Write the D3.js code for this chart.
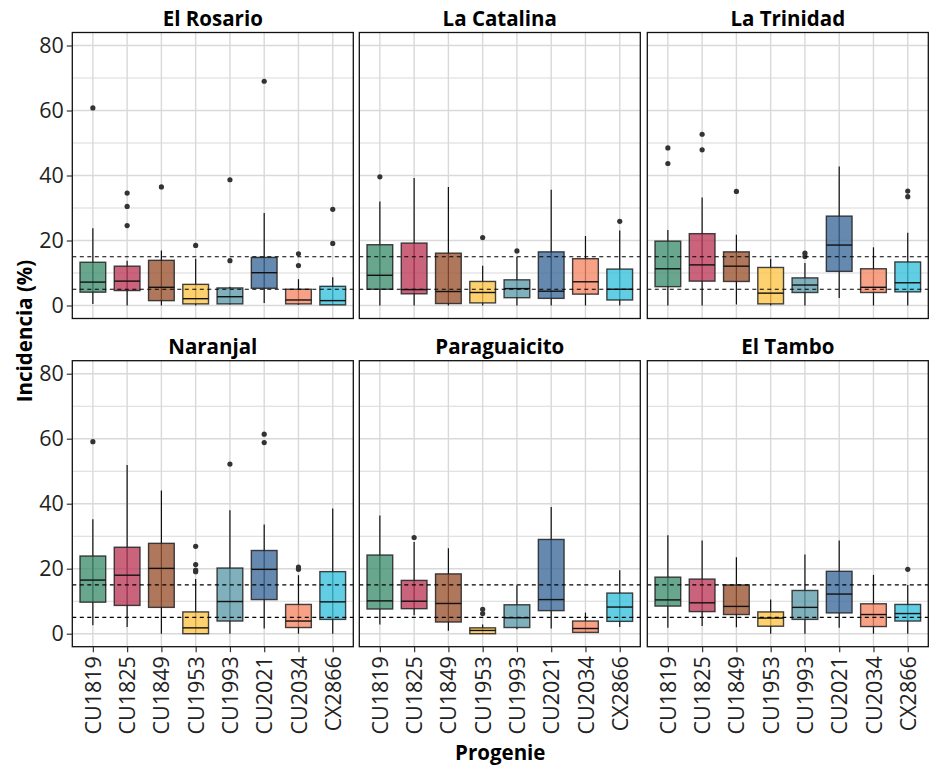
<!DOCTYPE html>
<html>
<head>
<meta charset="utf-8">
<script src="https://cdn.jsdelivr.net/npm/d3@7"></script>
<style>
  body { margin: 0; background: #fff; }
  svg text { font-family: "Open Sans", sans-serif; }
</style>
</head>
<body>
<svg id="chart" width="932" height="768"></svg>
<script>
// categories
var sites = ["El Rosario", "La Catalina", "La Trinidad", "Naranjal", "Paraguaicito", "El Tambo"];
var progenies = ["CU1819", "CU1825", "CU1849", "CU1953", "CU1993", "CU2021", "CU2034", "CX2866"];
var colors = ["#3d8e6e", "#bb3859", "#98522f", "#fcc447", "#5e9aaa", "#3b6898", "#f58864", "#36c0dd"];
var refLines = [5, 15];
var yTicks = [0, 20, 40, 60, 80];

// box stats per progenie: [lower whisker, q1, median, q3, upper whisker]
var rosarioBox = [[0.5, 4.1, 7.2, 13.3, 23.8], [0, 4.6, 7.5, 12.1, 13.8], [0, 1.5, 5.6, 13.9, 16.9], [0, 0.5, 2.1, 6.5, 14.4],
                  [0.3, 0.5, 2.7, 5.4, 5.8], [0.8, 5.3, 10.1, 14.8, 28.5], [0.2, 0.5, 1.7, 5.0, 8.1], [0.2, 0.2, 1.5, 5.9, 8.7]];
var catalinaBox = [[0, 5.0, 9.3, 18.7, 32.0], [0, 3.6, 4.9, 19.2, 39.2], [0, 0.6, 4.3, 16.1, 36.5], [0, 0.8, 4.0, 7.4, 12.2],
                   [0, 2.4, 5.2, 7.9, 14.9], [0, 2.2, 4.4, 16.5, 35.6], [0, 3.5, 7.3, 14.4, 21.4], [0, 1.7, 5.0, 11.2, 23.1]];
var trinidadBox = [[0, 5.8, 11.3, 19.8, 23.2], [0, 7.5, 12.5, 22.1, 33.2], [0.3, 7.4, 12.1, 16.5, 21.8], [0, 0.5, 3.8, 11.7, 14.4],
                   [0, 4.0, 6.3, 8.5, 13.1], [2.3, 10.5, 18.6, 27.5, 42.8], [0, 4.0, 5.6, 11.3, 17.9], [0, 4.2, 7.0, 13.4, 22.4]];
var naranjalBox = [[2.6, 9.7, 16.5, 23.9, 35.2], [2.1, 8.7, 18.0, 26.6, 51.9], [0, 8.1, 20.1, 27.8, 44.1], [0, 0, 1.8, 6.7, 16.8],
                   [0, 3.9, 9.9, 20.2, 38.0], [1.6, 10.5, 19.8, 25.6, 33.6], [0, 1.9, 3.9, 9.0, 18.0], [0, 4.4, 9.8, 19.1, 38.5]];
var paraguaicitoBox = [[2.8, 7.6, 10.1, 24.2, 36.4], [5.7, 7.7, 10.0, 16.4, 28.2], [0.9, 3.6, 9.3, 18.4, 26.3], [0, 0, 1.0, 1.8, 2.8],
                       [1.4, 1.9, 4.9, 8.9, 14.9], [1.6, 7.1, 10.5, 29.0, 39.0], [0.4, 0.4, 1.6, 3.9, 6.5], [2.1, 3.8, 8.2, 12.5, 19.5]];
var tamboBox = [[1.8, 8.5, 10.4, 17.4, 30.3], [2.4, 6.8, 9.5, 16.8, 28.7], [2.0, 5.9, 8.4, 15.0, 23.5], [0, 2.3, 4.8, 6.7, 10.5],
                [0, 4.4, 8.1, 13.3, 24.4], [1.8, 6.4, 12.2, 19.2, 28.7], [0, 2.2, 5.9, 9.2, 18.1], [0, 3.9, 6.2, 9.0, 15.0]];

// outliers per progenie
var rosarioOut = [[60.8], [34.6, 30.5, 24.6], [36.5], [18.5], [13.8, 38.7], [69.0], [15.9, 12.3], [29.6, 19.1]];
var catalinaOut = [[39.6], [], [], [20.9], [16.8], [], [], [25.9]];
var trinidadOut = [[48.5, 43.7], [52.7, 47.9], [35.1], [], [16.1, 15.1], [], [], [35.2, 33.5]];
var naranjalOut = [[59.1], [], [], [26.9, 21.3, 19.6, 19.1], [52.2], [61.4, 58.8], [20.5, 19.8], []];
var paraguaicitoOut = [[], [29.6], [], [7.5, 6.2], [], [], [], []];
var tamboOut = [[], [], [], [], [], [], [], [19.8]];

var boxData = [rosarioBox, catalinaBox, trinidadBox, naranjalBox, paraguaicitoBox, tamboBox];
var outData = [rosarioOut, catalinaOut, trinidadOut, naranjalOut, paraguaicitoOut, tamboOut];

var svg = d3.select("#chart");

var panelW = 281, panelH = 286;
var panelX = [72.3, 359.3, 647.3];
var panelY = [32.5, 360.7];

for (var p = 0; p < sites.length; p++) {
    var col = p % 3, row = Math.floor(p / 3);
    var x0 = panelX[col], y0 = panelY[row];

    var x = d3.scalePoint().domain(progenies).range([x0, x0 + panelW]).padding(0.6);
    var y = d3.scaleLinear().domain([-4, 84]).range([y0 + panelH, y0]);
    var bw = x.step() * 0.75;

    var g = svg.append("g").attr("class", "panel");

    // grid lines (major + minor)
    g.selectAll(".hgrid").data(d3.range(0, 81, 10)).enter().append("line")
        .attr("x1", x0).attr("x2", x0 + panelW)
        .attr("y1", function(d) { return y(d); }).attr("y2", function(d) { return y(d); })
        .attr("stroke", "#d9d9d9").attr("stroke-width", function(d) { return d % 20 == 0 ? 1.4 : 1.1; });
    g.selectAll(".vgrid").data(progenies).enter().append("line")
        .attr("x1", function(d) { return x(d); }).attr("x2", function(d) { return x(d); })
        .attr("y1", y0).attr("y2", y0 + panelH)
        .attr("stroke", "#d9d9d9").attr("stroke-width", 1.4);

    var boxes = boxData[p];
    var bg = g.selectAll(".box").data(progenies).enter().append("g");

    // whiskers
    bg.append("line")
        .attr("x1", function(d) { return x(d); }).attr("x2", function(d) { return x(d); })
        .attr("y1", function(d, i) { return y(boxes[i][0]); })
        .attr("y2", function(d, i) { return y(boxes[i][4]); })
        .attr("stroke", "#111").attr("stroke-width", 1.2);

    bg.append("rect")
        .attr("x", function(d) { return x(d) - bw / 2; })
        .attr("width", bw)
        .attr("y", function(d, i) { return y(boxes[i][3]); })
        .attr("height", function(d, i) { return y(boxes[i][1]) - y(boxes[i][3]); })
        .attr("fill", function(d, i) { return colors[i]; })
        .attr("fill-opacity", 0.78)
        .attr("stroke", "#222").attr("stroke-opacity", 0.85).attr("stroke-width", 1.4);

    bg.append("line")
        .attr("x1", function(d) { return x(d) - bw / 2; }).attr("x2", function(d) { return x(d) + bw / 2; })
        .attr("y1", function(d, i) { return y(boxes[i][2]); })
        .attr("y2", function(d, i) { return y(boxes[i][2]); })
        .attr("stroke", "#111").attr("stroke-width", 1.4);

    // outliers
    var pts = [];
    outData[p].forEach(function(vals, i) {
        vals.forEach(function(v) { pts.push({ k: progenies[i], v: v }); });
    });
    g.selectAll(".out").data(pts).enter().append("circle")
        .attr("cx", function(d) { return x(d.k); })
        .attr("cy", function(d) { return y(d.v); })
        .attr("r", 2.6)
        .attr("fill", "#333");

    // reference lines
    g.selectAll(".ref").data(refLines).enter().append("line")
        .attr("x1", x0).attr("x2", x0 + panelW)
        .attr("y1", function(d) { return y(d); }).attr("y2", function(d) { return y(d); })
        .attr("stroke", "#000").attr("stroke-width", 1.2).attr("stroke-dasharray", "4,3.5");

    // panel border
    g.append("rect").attr("x", x0).attr("y", y0).attr("width", panelW).attr("height", panelH)
        .attr("fill", "none").attr("stroke", "#111").attr("stroke-width", 1.3);

    // strip title
    svg.append("text")
        .attr("x", x0 + panelW / 2).attr("y", y0 - 6.5)
        .attr("text-anchor", "middle")
        .attr("font-size", 20.5).attr("font-weight", "bold")
        .text(sites[p]);

    if (col == 0) {
        var yAxis = svg.append("g").attr("transform", "translate(" + x0 + ",0)")
            .call(d3.axisLeft(y).tickValues(yTicks).tickSize(5.5).tickPadding(3));
        yAxis.select(".domain").remove();
        yAxis.selectAll("line").attr("stroke", "#333").attr("stroke-width", 1.2);
        yAxis.selectAll("text").attr("font-size", 21.5).attr("fill", "#222")
            .style("font-family", "Open Sans, sans-serif");
    }
    if (row == 1) {
        var xAxis = svg.append("g").attr("transform", "translate(0," + (y0 + panelH) + ")")
            .call(d3.axisBottom(x).tickSize(5.5).tickPadding(3));
        xAxis.select(".domain").remove();
        xAxis.selectAll("line").attr("stroke", "#333").attr("stroke-width", 1.2);
        xAxis.selectAll("text")
            .attr("font-size", 21.5).attr("fill", "#222")
            .style("font-family", "Open Sans, sans-serif")
            .attr("text-anchor", "end")
            .attr("dy", "0.35em")
            .attr("x", -9.5).attr("y", 0)
            .attr("transform", "rotate(-90)");
    }
}

// axis titles
svg.append("text")
    .attr("transform", "translate(32,331) rotate(-90)")
    .attr("text-anchor", "middle")
    .attr("font-size", 20.5).attr("font-weight", "bold")
    .text("Incidencia (%)");

svg.append("text")
    .attr("x", (panelX[0] + panelX[2] + panelW) / 2).attr("y", 760)
    .attr("text-anchor", "middle")
    .attr("font-size", 20.5).attr("font-weight", "bold")
    .text("Progenie");
</script>
</body>
</html>
